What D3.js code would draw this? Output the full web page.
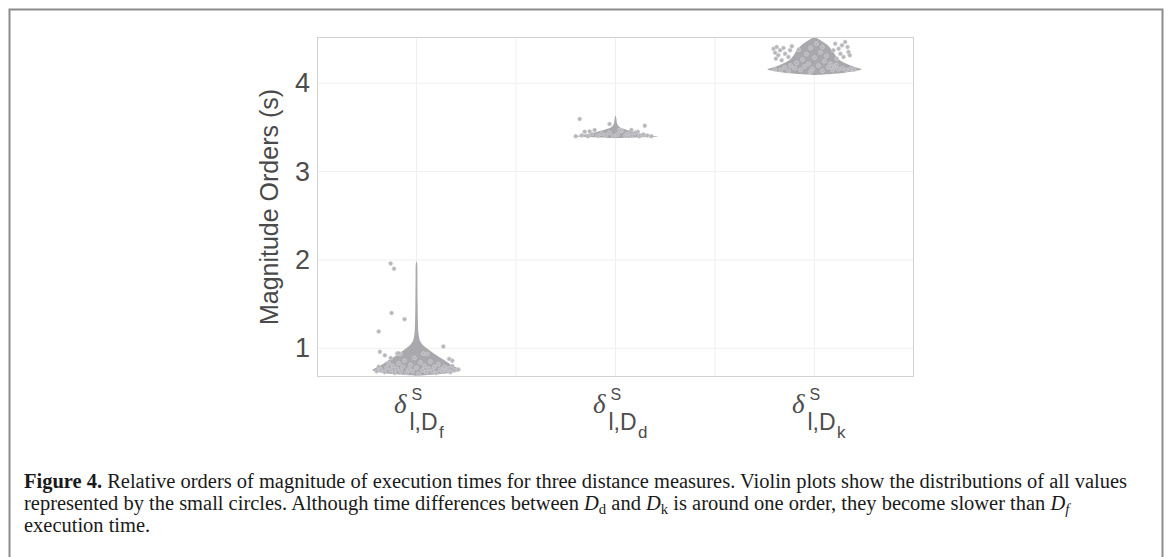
<!DOCTYPE html>
<meta charset="utf-8">
<style>
  body { margin: 0; background: #fff; }
</style>
<svg width="1171" height="557" font-family="Liberation Sans, Arial, sans-serif"></svg>
<script src="https://d3js.org/d3.v7.min.js"></script>
<script>
// categories: delta^S_{l,D?}
const categories = [1, 2, 3];
const subLetters = ["f", "d", "k"];
const yTicks = [1, 2, 3, 4];

// violin outlines: [value, relative density]
const violinDf = [[0.69,0],[0.71,0.5],[0.73,0.8],[0.755,0.94],[0.78,0.86],[0.82,0.72],[0.87,0.58],
  [0.93,0.40],[0.98,0.27],[1.02,0.17],[1.06,0.10],[1.10,0.065],[1.17,0.042],[1.30,0.03],
  [1.50,0.024],[1.80,0.019],[1.95,0.015],[1.99,0]];
const violinDd = [[3.38,0],[3.39,0.6],[3.397,0.91],[3.41,0.76],[3.426,0.6],[3.44,0.46],[3.46,0.34],
  [3.48,0.2],[3.50,0.1],[3.53,0.045],[3.56,0.028],[3.60,0.018],[3.64,0]];
const violinDk = [[4.094,0],[4.12,0.64],[4.159,1.0],[4.185,0.85],[4.222,0.68],[4.279,0.5],
  [4.354,0.4],[4.43,0.28],[4.49,0.12],[4.524,0]];

// jittered observations: [jitter (category units), value]
const pointsDf = [[-0.13,1.96],[-0.113,1.90],[-0.125,1.40],[-0.06,1.33],[-0.19,1.19],[0.135,1.02],
  [-0.184,0.96],[-0.159,0.92],[-0.097,0.94],[-0.08,0.935],[0.034,0.94],[0.054,0.935],[0.164,0.88],
  [-0.13,0.89],[-0.09,0.945],[0.18,0.86],
  [-0.20,0.74],[-0.18,0.76],[-0.16,0.73],[-0.15,0.78],[-0.13,0.75],[-0.12,0.80],[-0.11,0.72],
  [-0.10,0.77],[-0.09,0.83],[-0.08,0.74],[-0.07,0.79],[-0.06,0.86],[-0.05,0.72],[-0.04,0.76],
  [-0.03,0.81],[-0.02,0.74],[-0.01,0.89],[0.0,0.78],[0.01,0.71],[0.02,0.84],[0.03,0.75],
  [0.04,0.80],[0.05,0.73],[0.06,0.77],[0.07,0.85],[0.08,0.74],[0.09,0.79],[0.10,0.72],
  [0.11,0.82],[0.12,0.76],[0.13,0.74],[0.14,0.79],[0.15,0.75],[0.16,0.77],[0.17,0.73],
  [0.19,0.75],[0.21,0.76],[-0.19,0.79],[-0.14,0.83],[0.18,0.80]];
const pointsDd = [[-0.18,3.596],[-0.03,3.539],[0.147,3.52],[0.08,3.47],[0.112,3.452],[-0.155,3.452],
  [-0.105,3.47],[0.03,3.46],
  [-0.20,3.40],[-0.17,3.41],[-0.14,3.40],[-0.12,3.425],[-0.09,3.405],[-0.07,3.43],[-0.05,3.41],
  [-0.03,3.44],[-0.01,3.40],[0.01,3.42],[0.05,3.405],[0.06,3.43],[0.08,3.41],[0.10,3.44],
  [0.12,3.40],[0.14,3.42],[0.16,3.41],[0.18,3.40],[-0.13,3.455],[0.02,3.47]];
const pointsDk = [[-0.206,4.392],[-0.198,4.346],[-0.19,4.41],[-0.182,4.317],[-0.173,4.374],
  [-0.156,4.40],[-0.148,4.335],[-0.131,4.298],[-0.123,4.374],[-0.114,4.42],[-0.194,4.279],[-0.165,4.26],
  [0.104,4.448],[0.121,4.392],[0.138,4.43],[0.154,4.468],[0.166,4.41],[0.13,4.335],[0.146,4.298],
  [0.171,4.354],[0.112,4.279],[0.177,4.317],[0.095,4.374],
  [-0.20,4.16],[-0.17,4.15],[-0.15,4.18],[-0.13,4.14],[-0.12,4.20],[-0.10,4.17],[-0.09,4.23],
  [-0.07,4.15],[-0.06,4.27],[-0.05,4.19],[-0.04,4.33],[-0.03,4.22],[-0.02,4.40],[-0.01,4.16],
  [0.0,4.29],[0.01,4.45],[0.02,4.20],[0.03,4.35],[0.04,4.14],[0.05,4.25],[0.06,4.31],[0.07,4.18],
  [0.08,4.22],[0.09,4.15],[0.10,4.19],[0.12,4.16],[0.14,4.17],[0.16,4.15],[0.18,4.16],[0.20,4.155],
  [-0.08,4.38],[0.04,4.41],[-0.02,4.13],[0.11,4.21]];

const violins = [violinDf, violinDd, violinDk];
const points = [pointsDf, pointsDd, pointsDk];

const svg = d3.select("svg");

// outer figure frame
svg.append("rect")
    .attr("x", 9.5).attr("y", 9.5)
    .attr("width", 1153).attr("height", 600)
    .attr("fill", "none")
    .attr("stroke", "#8c8c8c")
    .attr("stroke-width", 2);

const panel = {left: 317, right: 914, top: 37, bottom: 377};

const x = d3.scaleLinear([0.5, 3.5], [panel.left, panel.right]);
const y = d3.scaleLinear([0.675, 4.524], [panel.bottom, panel.top]);
const w = d3.scaleLinear([0, 1], [0, 47]);

// grid
svg.append("g")
    .attr("stroke", "#efefef")
    .attr("stroke-width", 1)
  .selectAll("line")
  .data([1, 1.5, 2, 2.5, 3])
  .join("line")
    .attr("x1", d => x(d)).attr("x2", d => x(d))
    .attr("y1", panel.top).attr("y2", panel.bottom);

svg.append("g")
    .attr("stroke", "#efefef")
    .attr("stroke-width", 1)
  .selectAll("line")
  .data(yTicks)
  .join("line")
    .attr("x1", panel.left).attr("x2", panel.right)
    .attr("y1", d => y(d)).attr("y2", d => y(d));

// violins
const area = d3.area()
    .curve(d3.curveCatmullRom)
    .y(d => y(d[0]));

svg.append("g")
    .attr("fill", "#a9a9ad")
  .selectAll("path")
  .data(violins)
  .join("path")
    .attr("d", (v, i) => area
        .x0(d => x(categories[i]) - w(d[1]))
        .x1(d => x(categories[i]) + w(d[1]))(v));

// points
svg.append("g")
  .selectAll("g")
  .data(points)
  .join("g")
  .selectAll("circle")
  .data((p, i) => p.map(d => ({cat: categories[i], dx: d[0], v: d[1]})))
  .join("circle")
    .attr("cx", d => x(d.cat + d.dx))
    .attr("cy", d => y(d.v))
    .attr("r", 2)
    .attr("fill", "#b7b7bb")
    .attr("stroke", "#d2d2d5")
    .attr("stroke-width", 0.6);

// panel border
svg.append("rect")
    .attr("x", panel.left + 0.5).attr("y", panel.top + 0.5)
    .attr("width", panel.right - panel.left - 1)
    .attr("height", panel.bottom - panel.top - 1)
    .attr("fill", "none")
    .attr("stroke", "#d2d2d2");

// y axis
const yAxis = svg.append("g")
    .attr("transform", `translate(${panel.left},0)`)
    .call(d3.axisLeft(y).tickValues(yTicks).tickSize(0).tickPadding(7).tickFormat(d3.format("d")));
yAxis.select(".domain").remove();
yAxis.attr("font-family", null);
yAxis.selectAll("text")
    .attr("font-size", 27)
    .attr("fill", "#4d4d4d");

svg.append("text")
    .attr("transform", `translate(278,${(panel.top + panel.bottom) / 2}) rotate(-90)`)
    .attr("text-anchor", "middle")
    .attr("font-size", 25)
    .attr("fill", "#4a4a4a")
    .text("Magnitude Orders (s)");

// x axis with plotmath-like labels
const xAxis = svg.append("g")
    .attr("transform", `translate(0,${panel.bottom})`)
    .call(d3.axisBottom(x).tickValues(categories).tickSize(0).tickFormat(""));
xAxis.select(".domain").remove();
xAxis.attr("font-family", null).attr("text-anchor", "start");
xAxis.selectAll(".tick").each(function(d, i) {
  const g = d3.select(this);
  g.select("text").remove();
  g.append("text")
      .attr("x", -23).attr("y", 36)
      .attr("font-family", "Liberation Serif, serif")
      .attr("font-style", "italic")
      .attr("font-size", 27)
      .attr("fill", "#4d4d4d")
      .text("δ");
  g.append("text")
      .attr("x", -5.5).attr("y", 23)
      .attr("font-size", 16)
      .attr("fill", "#4d4d4d")
      .text("S");
  g.append("text")
      .attr("x", -7.5).attr("y", 53)
      .attr("font-size", 23)
      .attr("fill", "#4d4d4d")
      .text("l,D");
  g.append("text")
      .attr("x", 22).attr("y", 61)
      .attr("font-size", 17)
      .attr("fill", "#4d4d4d")
      .text(subLetters[i]);
});

// caption
const caption = svg.append("g")
    .attr("font-family", "Liberation Serif, 'Times New Roman', serif")
    .attr("fill", "#1a1a1a");

const line1 = caption.append("text").attr("x", 24).attr("y", 488);
line1.append("tspan").attr("font-weight", "bold").text("Figure 4.");
line1.append("tspan").text(" Relative orders of magnitude of execution times for three distance measures. Violin plots show the distributions of all values");

const line2 = caption.append("text").attr("x", 24).attr("y", 510);
function dSub(t, s) {
  t.append("tspan").attr("font-style", "italic").text("D");
  t.append("tspan").attr("font-size", "0.72em").attr("dy", 4).attr("font-style", s === "f" ? "italic" : "normal").text(s);
  return t;
}
line2.append("tspan").text("represented by the small circles. Although time differences between ");
dSub(line2, "d");
line2.append("tspan").attr("dy", -4).text(" and ");
dSub(line2, "k");
line2.append("tspan").attr("dy", -4).text(" is around one order, they become slower than ");
dSub(line2, "f");

const line3 = caption.append("text").attr("x", 24).attr("y", 532).text("execution time.");

// fit caption size so the first line spans the measured width
caption.attr("font-size", 18);
const scale = 1104 / line1.node().getComputedTextLength();
caption.attr("font-size", 18 * scale);
</script>
